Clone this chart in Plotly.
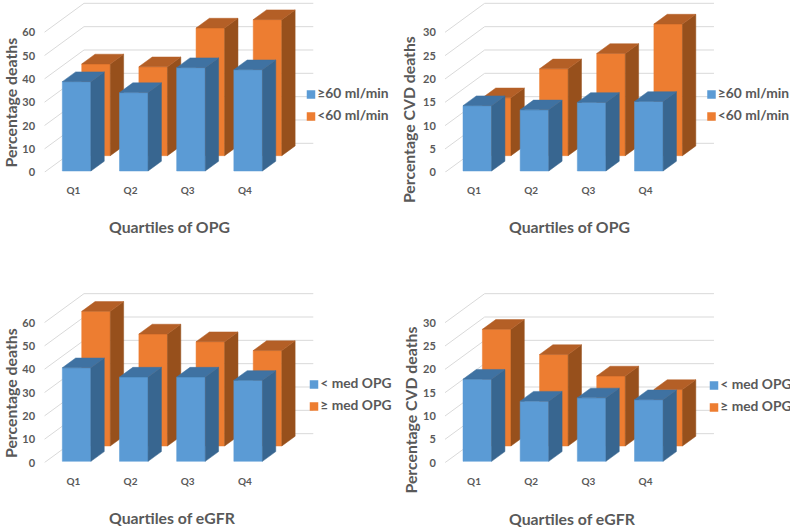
import plotly.graph_objects as go

# ---- data ----
quartiles = ["Q1", "Q2", "Q3", "Q4"]

opg_deaths_high = [38.3, 33.6, 44.3, 43.4]
opg_deaths_low = [39.3, 38.1, 54.7, 58.3]
opg_cvd_high = [14.0, 13.1, 14.7, 14.9]
opg_cvd_low = [12.4, 18.6, 21.9, 28.2]
egfr_deaths_low_med = [40.1, 36.1, 36.1, 34.7]
egfr_deaths_high_med = [57.7, 48.0, 44.7, 40.9]
egfr_cvd_low_med = [17.6, 12.9, 13.6, 13.2]
egfr_cvd_high_med = [25.0, 19.6, 15.0, 12.1]

ticks_deaths = [0, 10, 20, 30, 40, 50, 60]
ticks_cvd = [0, 5, 10, 15, 20, 25, 30]

names_egfr_split = ["≥60 ml/min", "<60 ml/min"]
names_opg_split = ["< med OPG", "≥ med OPG"]

# ---- style and geometry ----
W, H = 791, 527
FONT = "Lato, 'Open Sans', sans-serif"
GREY = "#595959"
GRID = "#D9D9D9"
BLUE = dict(front="#5B9BD5", top="#3F72A2", side="#386690")
ORANGE = dict(front="#ED7D31", top="#B45F26", side="#97501C")

CAT_PX = 57.17          # pixels per category
BACK_DX_PX = 39.67      # floor depth, horizontal
BACK_DY_PX = 29.0       # floor depth, vertical
BAR_W = 0.5             # in category units
BAR_D = 0.336           # in floor-depth units
GRID_END = 4.705        # right end of back wall, category units
TICK_SHIFT = 0.507

panels = [
    dict(front=opg_deaths_high, back=opg_deaths_low, ticks=ticks_deaths, names=names_egfr_split,
         xf=44.33, xr=392, y0=172.33, ytitle="Percentage deaths", xtitle="Quartiles of OPG",
         ypos=(10, 102.5), xpos=(169.7, 226.7), leg=(311, 94.5, 116.5)),
    dict(front=opg_cvd_high, back=opg_cvd_low, ticks=ticks_cvd, names=names_egfr_split,
         xf=445.0, xr=790, y0=172.33, ytitle="Percentage CVD deaths", xtitle="Quartiles of OPG",
         ypos=(408.6, 119.5), xpos=(569, 227), leg=(711.5, 94.5, 116.5)),
    dict(front=egfr_deaths_low_med, back=egfr_deaths_high_med, ticks=ticks_deaths, names=names_opg_split,
         xf=44.33, xr=392, y0=462.67, ytitle="Percentage deaths", xtitle="Quartiles of eGFR",
         ypos=(10, 393), xpos=(172, 517), leg=(314, 384.5, 406.5)),
    dict(front=egfr_cvd_low_med, back=egfr_cvd_high_med, ticks=ticks_cvd, names=names_opg_split,
         xf=445.0, xr=790, y0=462.67, ytitle="Percentage CVD deaths", xtitle="Quartiles of eGFR",
         ypos=(409.5, 410), xpos=(572.3, 518), leg=(714, 385.5, 407.5)),
]

fig = go.Figure()
annotations = []
layout_axes = {}


def add_face(pts, color, xa, ya, name):
    fig.add_trace(go.Scatter(
        x=[p[0] for p in pts] + [pts[0][0]],
        y=[p[1] for p in pts] + [pts[0][1]],
        mode="lines", fill="toself", fillcolor=color,
        line=dict(color=color, width=0.5),
        xaxis=xa, yaxis=ya, showlegend=False, name=name, hoverinfo="skip",
    ))


for n, p in enumerate(panels, start=1):
    xa, ya = f"x{n}", f"y{n}"
    vmax = max(p["ticks"])
    K = 140.0 / vmax    # pixels per value unit
    dxu = BACK_DX_PX / CAT_PX
    dyv = BACK_DY_PX / K

    def proj(u, v, d):
        return (u + d * dxu, v + d * dyv)

    # floor and back wall lines
    for t in p["ticks"]:
        a, b, c = proj(0, t, 0), proj(0, t, 1), proj(GRID_END - dxu, t, 1)
        fig.add_trace(go.Scatter(
            x=[a[0], b[0], c[0]], y=[a[1], b[1], c[1]], mode="lines",
            line=dict(color=GRID, width=1), xaxis=xa, yaxis=ya,
            showlegend=False, hoverinfo="skip",
        ))

    # bars: rear series first, then front series
    series = [
        (p["back"], ORANGE, 0.575, 0.255, p["names"][1]),
        (p["front"], BLUE, 0.046, 0.283, p["names"][0]),
    ]
    for values, col, d0, u0, name in series:
        for i, v in enumerate(values):
            ul, ur = u0 + i, u0 + i + BAR_W
            d1 = d0 + BAR_D
            add_face([proj(ul, 0, d0), proj(ur, 0, d0), proj(ur, v, d0), proj(ul, v, d0)],
                     col["front"], xa, ya, name)
            add_face([proj(ur, 0, d0), proj(ur, 0, d1), proj(ur, v, d1), proj(ur, v, d0)],
                     col["side"], xa, ya, name)
            add_face([proj(ul, v, d0), proj(ur, v, d0), proj(ur, v, d1), proj(ul, v, d1)],
                     col["top"], xa, ya, name)

    # legend keys
    lx, ly1, ly2 = p["leg"]
    for (name, col, ly) in [(p["names"][0], BLUE, ly1), (p["names"][1], ORANGE, ly2)]:
        fig.add_trace(go.Scatter(
            x=[(lx - p["xf"]) / CAT_PX], y=[(p["y0"] - ly) / K],
            mode="markers+text", text=[name], textposition="middle right",
            textfont=dict(family=FONT, size=13.8, color=GREY, weight="bold"),
            marker=dict(symbol="square", size=8.5, color=col["front"]),
            xaxis=xa, yaxis=ya, showlegend=False, name=name, hoverinfo="skip",
        ))

    # axes
    ytop = p["y0"] - (vmax * 73 / 60) * K
    layout_axes[f"xaxis{n}"] = dict(
        domain=[p["xf"] / W, p["xr"] / W], range=[0, (p["xr"] - p["xf"]) / CAT_PX],
        anchor=ya, showgrid=False, zeroline=False, showline=False, automargin=False,
        tickmode="array", tickvals=[i + TICK_SHIFT for i in range(len(quartiles))],
        ticktext=quartiles, ticks="outside", ticklen=9, tickcolor="rgba(0,0,0,0)",
        tickfont=dict(family=FONT, size=10, color=GREY, weight="bold"),
    )
    layout_axes[f"yaxis{n}"] = dict(
        domain=[1 - p["y0"] / H, 1 - ytop / H], range=[0, vmax * 73 / 60],
        anchor=xa, showgrid=False, zeroline=False, showline=False, automargin=False,
        tickmode="array", tickvals=p["ticks"], ticks="outside", ticklen=6,
        tickcolor="rgba(0,0,0,0)",
        tickfont=dict(family=FONT, size=11, color=GREY, weight="bold"),
    )

    # axis titles
    annotations.append(dict(
        text=p["ytitle"], textangle=-90, xref="paper", yref="paper",
        x=p["ypos"][0] / W, y=1 - p["ypos"][1] / H, xanchor="center", yanchor="middle",
        showarrow=False, font=dict(family=FONT, size=15.8, color=GREY, weight="bold"),
    ))
    annotations.append(dict(
        text=p["xtitle"], xref="paper", yref="paper",
        x=p["xpos"][0] / W, y=1 - p["xpos"][1] / H, xanchor="center", yanchor="middle",
        showarrow=False, font=dict(family=FONT, size=15.8, color=GREY, weight="bold"),
    ))

fig.update_layout(
    width=W, height=H, autosize=False,
    margin=dict(l=0, r=0, t=0, b=0),
    paper_bgcolor="white", plot_bgcolor="white",
    showlegend=False, annotations=annotations, **layout_axes,
)

fig.write_html(
    "out.html",
    config=dict(displayModeBar=False),
    post_script="document.body.style.margin='0';document.documentElement.style.overflow='hidden';",
)
